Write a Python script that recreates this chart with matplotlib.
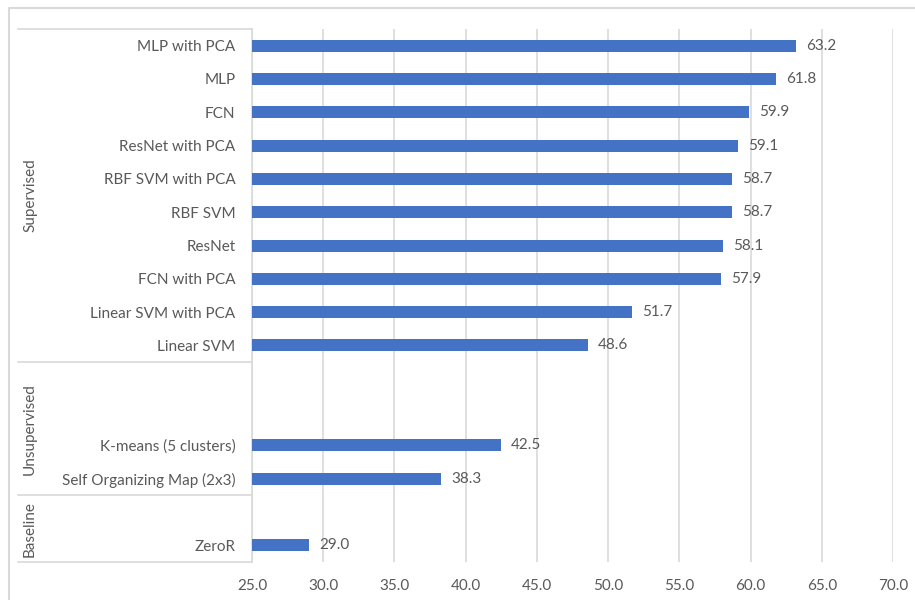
import matplotlib.pyplot as plt
import numpy as np
from matplotlib.lines import Line2D
from matplotlib.transforms import blended_transform_factory

labels = ['MLP with PCA', 'MLP', 'FCN', 'ResNet with PCA', 'RBF SVM with PCA',
          'RBF SVM', 'ResNet', 'FCN with PCA', 'Linear SVM with PCA', 'Linear SVM',
          '', '', 'K-means (5 clusters)', 'Self Organizing Map (2x3)',
          '', 'ZeroR']
scores = [63.2, 61.8, 59.9, 59.1, 58.7, 58.7, 58.1, 57.9, 51.7, 48.6,
          None, None, 42.5, 38.3, None, 29.0]
groups = ['Supervised', 'Unsupervised', 'Baseline']
group_sizes = [10, 4, 2]
ticks = [25, 30, 35, 40, 45, 50, 55, 60, 65, 70]

plt.rcParams['font.family'] = ['Lato', 'DejaVu Sans']
txt = '#595959'

fig = plt.figure(figsize=(9.15, 6), dpi=100)
ax = fig.add_axes([252 / 915, 38 / 600, 641 / 915, 533 / 600])

y = np.arange(len(labels))
for yi, v in zip(y, scores):
    if v is None:
        continue
    ax.barh(yi, v, height=0.36, color='#4472C4', zorder=3)
    ax.text(v + 0.7, yi, f'{v:.1f}', va='center', ha='left', fontsize=11, color=txt)

ax.set_xlim(25, 70)
ax.set_ylim(len(labels) - 0.5, -0.5)
ax.set_xticks(ticks)
ax.set_xticklabels([f'{t:.1f}' for t in ticks], fontsize=11, color=txt)
ax.set_yticks(y)
ax.set_yticklabels(labels, fontsize=11, color=txt)
ax.tick_params(axis='both', length=0)
ax.tick_params(axis='y', pad=12)
ax.tick_params(axis='x', pad=12)
ax.grid(axis='x', color='#D9D9D9', lw=1.2, zorder=0)
for s in ['top', 'right', 'bottom']:
    ax.spines[s].set_visible(False)
ax.spines['left'].set_color('#D9D9D9')
ax.spines['left'].set_linewidth(1.2)

# group dividers and labels
tr = blended_transform_factory(fig.transFigure, ax.transData)
x0, x1 = 18 / 915, 252 / 915
start = -0.5
for g, n in zip(groups, group_sizes):
    fig.add_artist(Line2D([x0, x1], [start, start], transform=tr, color='#D9D9D9', lw=1.2))
    fig.text(30 / 915, start + n / 2, g, transform=tr, rotation=90, ha='center',
             va='center', fontsize=11, color=txt)
    start += n
fig.add_artist(Line2D([x0, x1], [start, start], transform=tr, color='#D9D9D9', lw=1.2))

# outer chart border
fig.add_artist(Line2D([9 / 915, 9 / 915, 1], [0, 1 - 8 / 600, 1 - 8 / 600],
                      transform=fig.transFigure, color='#D9D9D9', lw=1.5))

fig.savefig('out.png', dpi=100)
